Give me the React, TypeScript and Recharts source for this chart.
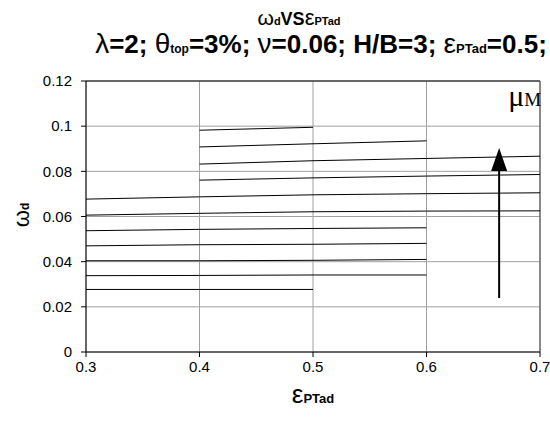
import { CartesianGrid, Line, LineChart, ReferenceLine, XAxis, YAxis } from "recharts"

// strain values along the x axis
const epsPTad = [0.3, 0.4, 0.5, 0.6, 0.7]
const xTicks = [0.3, 0.4, 0.5, 0.6, 0.7]
const yTicks = [0, 0.02, 0.04, 0.06, 0.08, 0.1, 0.12]

// omega_d curves, one per mu_M level (lowest first), null where no result
const omega1 = [0.0277, 0.0277, 0.0277, null, null]
const omega2 = [0.0338, 0.0339, 0.0341, 0.0341, null]
const omega3 = [0.0404, 0.0404, 0.0406, 0.041, null]
const omega4 = [0.047, 0.0475, 0.0477, 0.0481, null]
const omega5 = [0.0537, 0.0543, 0.0547, 0.055, null]
const omega6 = [0.0606, 0.0614, 0.0621, 0.0624, 0.0625]
const omega7 = [0.0677, 0.0687, 0.0696, 0.0701, 0.0705]
const omega8 = [null, 0.0761, 0.0771, 0.0779, 0.0786]
const omega9 = [null, 0.0832, 0.0847, 0.0857, 0.0867]
const omega10 = [null, 0.0908, 0.0922, 0.0935, null]
const omega11 = [null, 0.0982, 0.0995, null, null]

const curves = [omega1, omega2, omega3, omega4, omega5, omega6, omega7, omega8, omega9, omega10, omega11]

const data = epsPTad.map((eps, i) => {
  const row: Record<string, number | null> = { eps }
  curves.forEach((c, k) => {
    row[`w${k + 1}`] = c[i]
  })
  return row
})

const font = "'Liberation Sans', Arial, sans-serif"

// vertical arrow showing increasing mu_M
const MuArrow = (props: any) => {
  const { x1, y1, y2 } = props
  const top = Math.min(y1, y2)
  const bottom = Math.max(y1, y2)
  return (
    <g>
      <line x1={x1} y1={bottom} x2={x1} y2={top + 20} stroke="#000" strokeWidth={2} />
      <polygon points={`${x1},${top} ${x1 - 8},${top + 23} ${x1 + 8},${top + 23}`} fill="#000" />
      <text x={x1 + 9} y={top - 42} fontFamily="'Liberation Serif', serif" fontSize={30} fill="#000">
        μ<tspan fontSize={19}>M</tspan>
      </text>
    </g>
  )
}

export default function App() {
  return (
    <div style={{ position: "absolute", left: 0, top: 0, width: 550, height: 423, background: "#fff", fontFamily: font }}>
      <div style={{ position: "absolute", left: 0, top: 5, width: 598, textAlign: "center", fontWeight: "bold", fontSize: 18, whiteSpace: "nowrap" }}>
        <span style={{ fontSize: 21, fontWeight: "normal" }}>ω</span>
        <span style={{ fontSize: 11 }}>d</span>VS
        <span style={{ fontSize: 22, fontWeight: "normal" }}>ε</span>
        <span style={{ fontSize: 11 }}>PTad</span>
      </div>
      <div style={{ position: "absolute", left: 0, top: 28, width: 642, textAlign: "center", fontWeight: "bold", fontSize: 26, whiteSpace: "nowrap" }}>
        <span style={{ fontWeight: "normal", fontSize: 28 }}>λ</span>=2; <span style={{ fontWeight: "normal", fontSize: 28 }}>θ</span>
        <span style={{ fontSize: 12 }}>top</span>=3%; <span style={{ fontWeight: "normal", fontSize: 28 }}>ν</span>=0.06; H/B=3;{" "}
        <span style={{ fontWeight: "normal", fontSize: 28 }}>ε</span>
        <span style={{ fontSize: 13 }}>PTad</span>=0.5;
      </div>
      <div
        style={{
          position: "absolute",
          left: 2,
          top: 202,
          width: 40,
          textAlign: "center",
          transform: "rotate(-90deg)",
          fontWeight: "bold",
          fontSize: 22,
        }}
      >
        <span style={{ fontWeight: "normal" }}>ω</span>
        <span style={{ fontSize: 12 }}>d</span>
      </div>
      <div style={{ position: "absolute", left: 263, top: 379, width: 100, textAlign: "center", fontWeight: "bold", fontSize: 13 }}>
        <span style={{ fontSize: 26, fontWeight: "normal" }}>ε</span>PTad
      </div>
      <LineChart width={550} height={423} data={data} margin={{ top: 81, right: 10, bottom: 21, left: 0 }}>
        <CartesianGrid stroke="#a0a0a0" />
        <XAxis
          dataKey="eps"
          type="number"
          domain={[0.3, 0.7]}
          ticks={xTicks}
          height={50}
          tick={{ fill: "#000", fontSize: 15, fontFamily: font }}
          tickSize={5}
          tickMargin={4}
          axisLine={{ stroke: "#000" }}
          tickLine={{ stroke: "#000" }}
        />
        <YAxis
          type="number"
          domain={[0, 0.12]}
          ticks={yTicks}
          width={86}
          tick={{ fill: "#000", fontSize: 15, fontFamily: font }}
          tickSize={5}
          tickMargin={9}
          axisLine={{ stroke: "#000" }}
          tickLine={{ stroke: "#000" }}
        />
        <ReferenceLine y={0.12} stroke="#000" />
        <ReferenceLine x={0.7} stroke="#444" />
        {curves.map((_, k) => (
          <Line
            key={k}
            dataKey={`w${k + 1}`}
            stroke="#000"
            strokeWidth={1}
            dot={false}
            type="linear"
            isAnimationActive={false}
          />
        ))}
        <ReferenceLine
          segment={[
            { x: 0.664, y: 0.0239 },
            { x: 0.664, y: 0.0903 },
          ]}
          shape={MuArrow}
        />
      </LineChart>
    </div>
  )
}
